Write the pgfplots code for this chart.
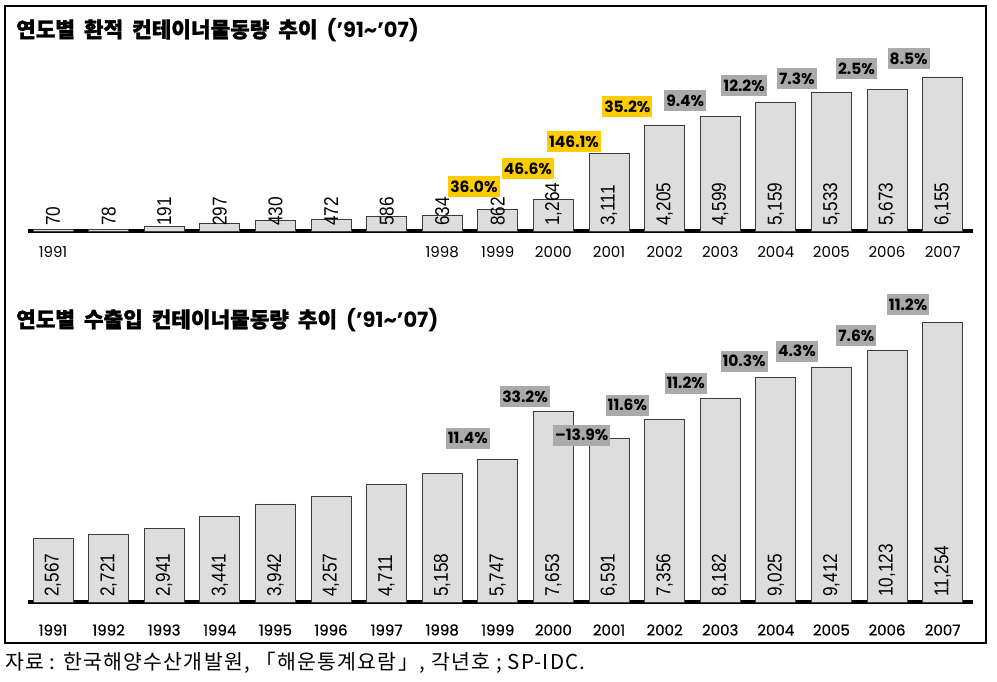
\documentclass[border=0pt]{standalone}
\usepackage{pgfplots}
\usepackage{pgfplotstable}
\pgfplotsset{compat=1.18}
\usepackage{fontspec}
\setmainfont{Poppins}
\newfontfamily\kr{Noto Sans CJK KR}[BoldFeatures={FakeBold=1.4}]
\newfontfamily\krnote{Noto Sans CJK KR}[LetterSpace=6]
\newfontfamily\popb{Poppins}[FakeBold=0.6]
\newfontfamily\narrow[FakeStretch=0.86]{Liberation Sans}
\definecolor{barfill}{RGB}{221,221,221}
\definecolor{baredge}{RGB}{60,60,60}
\definecolor{ylw}{RGB}{255,204,0}
\definecolor{gry}{RGB}{170,170,170}

\pgfplotstableread{
x v
0 70
1 78
2 191
3 297
4 430
5 472
6 586
7 634
8 862
9 1264
10 3111
11 4205
12 4599
13 5159
14 5533
15 5673
16 6155
}\transship

\pgfplotstableread{
x v
0 2567
1 2721
2 2941
3 3441
4 3942
5 4257
6 4711
7 5158
8 5747
9 7653
10 6591
11 7356
12 8182
13 9025
14 9412
15 10123
16 11254
}\trade

\tikzset{pct/.style={font=\fontsize{15.5}{15.5}\selectfont\bfseries, inner xsep=2pt, inner ysep=0pt, minimum height=21pt, anchor=center}}
\pgfplotsset{
  cbar/.style={
    scale only axis, clip=false,
    width=945.2pt, xmin=-0.45, xmax=16.55, ymin=0,
    axis y line=none, axis x line=bottom,
    x axis line style={line width=3.5pt, -},
    major tick length=0pt,
    /pgf/number format/assume math mode=true,
    /pgf/number format/1000 sep={,},
    /pgf/number format/fixed, /pgf/number format/precision=0,
  },
  vlab/.style={draw=none, mark=none, point meta=explicit,
    nodes near coords,
    nodes near coords style={rotate=90, anchor=west, font=\narrow\fontsize{20}{20}\selectfont, inner xsep=5pt, inner ysep=0pt, text=black}},
  bars/.style={ybar, bar width=40pt, fill=barfill, draw=baredge, line width=0.8pt},
}
\newcommand{\tsp}{\hspace{9pt}}

\begin{document}
\begin{tikzpicture}
\path[use as bounding box] (0pt,0pt) rectangle (997pt,682pt);
\draw[line width=1.2pt] (5pt,39pt) rectangle (986pt,676pt);
\node[anchor=west, inner sep=0] at (16pt,652pt) {\kr\bfseries\fontsize{21.3}{22}\selectfont 연도별\tsp 환적\tsp 컨테이너물동량\tsp 추이\tsp{\normalfont\bfseries\fontsize{21}{22}\selectfont(’91\textasciitilde’07)}};
\node[anchor=west, inner sep=0] at (16pt,362pt) {\kr\bfseries\fontsize{21.3}{22}\selectfont 연도별\tsp 수출입\tsp 컨테이너물동량\tsp 추이\tsp{\normalfont\bfseries\fontsize{21}{22}\selectfont(’91\textasciitilde’07)}};
\node[anchor=west, inner sep=0] at (5pt,19pt) {\krnote\fontsize{20.5}{21}\selectfont 자료 : 한국해양수산개발원, 「해운통계요람」, 각년호 ; SP-IDC.};

\begin{axis}[cbar, at={(28pt,451pt)}, anchor=south west, height=187.5pt, ymax=7500,
  xtick={0,7,8,9,10,11,12,13,14,15,16},
  xticklabels={1991,1998,1999,2000,2001,2002,2003,2004,2005,2006,2007},
  xticklabel style={anchor=center, yshift=-21pt, font=\fontsize{15}{15}\selectfont}]
\addplot[bars] table[x=x,y=v] {\transship};
\addplot[vlab] table[x=x, y expr=0, meta=v] {\transship};
\node[pct, fill=ylw] at (axis cs:7.57,1760) {36.0\%};
\node[pct, fill=ylw] at (axis cs:8.54,2480) {46.6\%};
\node[pct, fill=ylw] at (axis cs:9.37,3580) {146.1\%};
\node[pct, fill=ylw] at (axis cs:10.33,4960) {35.2\%};
\node[pct, fill=gry] at (axis cs:11.37,5220) {9.4\%};
\node[pct, fill=gry] at (axis cs:12.43,5800) {12.2\%};
\node[pct, fill=gry] at (axis cs:13.38,6100) {7.3\%};
\node[pct, fill=gry] at (axis cs:14.45,6500) {2.5\%};
\node[pct, fill=gry] at (axis cs:15.39,6900) {8.5\%};
\end{axis}

\begin{axis}[cbar, at={(28pt,80pt)}, anchor=south west, height=323.4pt, ymax=13000,
  xtick={0,1,...,16},
  xticklabels={1991,1992,1993,1994,1995,1996,1997,1998,1999,2000,2001,2002,2003,2004,2005,2006,2007},
  xticklabel style={anchor=center, yshift=-28pt, font=\popb\fontsize{15}{15}\selectfont}]
\addplot[bars] table[x=x,y=v] {\trade};
\addplot[vlab] table[x=x, y expr=0, meta=v] {\trade};
\node[pct, fill=gry] at (axis cs:7.46,6590) {11.4\%};
\node[pct, fill=gry] at (axis cs:8.49,8250) {33.2\%};
\node[pct, fill=gry] at (axis cs:9.51,6710) {\textendash13.9\%};
\node[pct, fill=gry] at (axis cs:10.33,7910) {11.6\%};
\node[pct, fill=gry] at (axis cs:11.38,8800) {11.2\%};
\node[pct, fill=gry] at (axis cs:12.43,9680) {10.3\%};
\node[pct, fill=gry] at (axis cs:13.38,10080) {4.3\%};
\node[pct, fill=gry] at (axis cs:14.45,10700) {7.6\%};
\node[pct, fill=gry] at (axis cs:15.38,11950) {11.2\%};
\end{axis}
\end{tikzpicture}
\end{document}
